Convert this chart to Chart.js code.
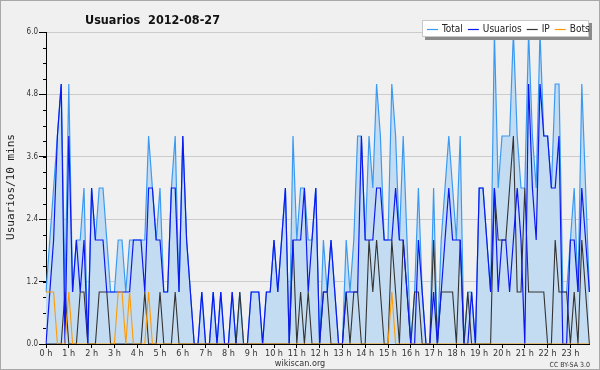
<!DOCTYPE html>
<html>
<head>
<meta charset="utf-8">
<script src="https://cdn.jsdelivr.net/npm/chart.js@4.4.1/dist/chart.umd.min.js"></script>
<style>
html,body{margin:0;padding:0;background:#f0f0f0;}
canvas{display:block;}
</style>
</head>
<body>
<canvas id="c" width="600" height="370"></canvas>
<script>
const titleText = "Usuarios  2012-08-27";
const yAxisTitle = "Usuarios/10 mins";
const hourLabels = ["0 h","1 h","2 h","3 h","4 h","5 h","6 h","7 h","8 h","9 h","10 h","11 h","12 h","13 h","14 h","15 h","16 h","17 h","18 h","19 h","20 h","21 h","22 h","23 h"];
const slotMinutes = ["00","10","20","30","40","50"];
const yTicks = [0, 1.2, 2.4, 3.6, 4.8, 6.0];
const seriesNames = ["Total","Usuarios","IP","Bots"];

const total = [1,2,3,4,5,1,5,1,2,2, 3,0,3,2,3,3,2,1,1,2, 2,1,2,2,2,2,2,4,3,2, 3,1,1,3,4,1,4,2,1,0,
               0,1,0,0,1,0,1,0,0,1, 0,1,0,0,1,1,1,0,1,1, 2,1,2,3,0,4,2,3,3,2, 2,3,0,2,1,2,1,0,0,2,
               1,2,4,4,2,4,3,5,4,2, 2,5,4,2,4,2,0,1,3,1, 0,0,3,0,2,3,4,3,2,4, 0,1,1,0,3,3,2,1,6,3,
               4,4,4,6,4,3,3,6,4,3, 6,4,4,3,5,5,1,1,2,3, 1,5,3,1];
const usuarios = [0,1,2,4,5,0,4,1,2,1, 2,0,3,2,2,2,1,1,1,1, 1,1,1,2,2,2,1,3,3,2, 2,1,1,3,3,1,4,2,1,0,
                  0,1,0,0,1,0,1,0,0,1, 0,0,0,0,1,1,1,0,1,1, 2,1,2,3,0,2,2,2,3,1, 2,3,0,1,1,2,1,0,0,1,
                  1,1,1,4,2,2,2,3,3,2, 2,2,3,2,2,1,0,0,2,1, 0,0,1,0,1,2,3,2,2,2, 0,0,1,0,3,3,2,1,3,1,
                  2,2,1,2,3,2,0,5,3,2, 5,4,4,3,3,4,0,0,2,2, 1,3,2,1];
const ip = [0,0,0,0,0,1,0,0,0,1, 1,0,0,0,1,1,1,0,0,0, 0,0,0,0,0,0,1,0,0,0, 1,0,0,0,1,0,0,0,0,0,
            0,0,0,0,0,0,0,0,0,0, 0,1,0,0,0,0,0,0,0,0, 0,0,0,0,0,2,0,1,0,1, 0,0,0,1,1,0,0,0,0,1,
            0,1,1,0,0,2,1,2,1,0, 0,2,1,0,2,1,0,1,1,0, 0,0,2,0,1,1,1,1,0,2, 0,1,0,0,0,0,0,0,3,2,
            2,2,3,4,1,1,3,1,1,1, 1,1,0,0,2,1,1,1,0,1, 0,2,1,0];
const bots = [1,1,1,0,0,0,1,0,0,0, 0,0,0,0,0,0,0,0,0,1, 1,0,1,0,0,0,0,1,0,0, 0,0,0,0,0,0,0,0,0,0,
              0,0,0,0,0,0,0,0,0,0, 0,0,0,0,0,0,0,0,0,0, 0,0,0,0,0,0,0,0,0,0, 0,0,0,0,0,0,0,0,0,0,
              0,0,0,0,0,0,0,0,0,0, 0,1,0,0,0,0,0,0,0,0, 0,0,0,0,0,0,0,0,0,0, 0,0,0,0,0,0,0,0,0,0,
              0,0,0,0,0,0,0,0,0,0, 0,0,0,0,0,0,0,0,0,0, 0,0,0,0];

const colors = {Total:"#3a9af2", Usuarios:"#0c18f0", IP:"#333333", Bots:"#ff9a00", fill:"#c4dcf1"};

const categories = [];
hourLabels.forEach(h => slotMinutes.forEach(m => categories.push(h + " " + m)));

const FONT = "'DejaVu Sans Condensed','DejaVu Sans',sans-serif";

const decor = {
  id: "decor",
  beforeDraw(chart) {
    const c = chart.ctx;
    c.save();
    c.fillStyle = "#f0f0f0";
    c.fillRect(0, 0, chart.width, chart.height);
    c.restore();
  },
  afterDraw(chart) {
    const c = chart.ctx;
    const ys = chart.scales.y;
    const left = chart.chartArea.left;
    c.save();
    // minor ticks on y axis
    c.strokeStyle = "#000"; c.lineWidth = 1;
    for (let k = 0; k <= 20; k++) {
      const v = k * 0.3;
      const py = Math.round(ys.getPixelForValue(v)) + 0.5;
      c.beginPath(); c.moveTo(left - 3, py); c.lineTo(left, py); c.stroke();
    }
    // title
    c.fillStyle = "#111";
    c.font = "bold 12.5px " + FONT;
    c.textBaseline = "alphabetic"; c.textAlign = "left";
    c.fillText(titleText, 85, 24);
    // y axis title
    c.save();
    c.translate(11, 187);
    c.rotate(-Math.PI / 2);
    c.font = "11px 'DejaVu Sans Mono', monospace";
    c.textAlign = "center"; c.textBaseline = "middle";
    c.fillStyle = "#222";
    c.fillText(yAxisTitle, 0, 0);
    c.restore();
    // legend box
    const lx = 422, ly = 20, lw = 167, lh = 17;
    c.fillStyle = "#8a8a8a";
    c.fillRect(lx + 3, ly + 3, lw, lh);
    c.fillStyle = "#ffffff";
    c.fillRect(lx, ly, lw, lh);
    c.strokeStyle = "#c8c8c8";
    c.strokeRect(lx + 0.5, ly + 0.5, lw - 1, lh - 1);
    c.font = "10px " + FONT;
    c.textBaseline = "middle"; c.textAlign = "left";
    let cx = lx + 5;
    const my = ly + lh / 2 + 0.5;
    seriesNames.forEach(name => {
      c.strokeStyle = colors[name]; c.lineWidth = 1.2;
      c.beginPath(); c.moveTo(cx, Math.round(my) + 0.5); c.lineTo(cx + 11, Math.round(my) + 0.5); c.stroke();
      cx += 15;
      c.fillStyle = "#222";
      c.fillText(name, cx, my);
      cx += c.measureText(name).width + 5;
    });
    // footer
    c.fillStyle = "#333";
    c.font = "9px " + FONT;
    c.textAlign = "center"; c.textBaseline = "alphabetic";
    c.fillText("wikiscan.org", 300, 366);
    c.font = "7px " + FONT;
    c.textAlign = "right";
    c.fillText("CC BY-SA 3.0", 590, 367);
    // outer border
    c.strokeStyle = "#a8a8a8"; c.lineWidth = 1;
    c.strokeRect(0.5, 0.5, chart.width - 1, chart.height - 1);
    c.restore();
  }
};

new Chart(document.getElementById("c"), {
  type: "line",
  data: {
    labels: categories,
    datasets: [
      {label: seriesNames[0], data: total, borderColor: colors.Total, backgroundColor: colors.fill, fill: "origin", borderWidth: 1.2, order: 4},
      {label: seriesNames[1], data: usuarios, borderColor: colors.Usuarios, borderWidth: 1.2, fill: false, order: 2},
      {label: seriesNames[2], data: ip, borderColor: colors.IP, borderWidth: 1.1, fill: false, order: 3},
      {label: seriesNames[3], data: bots, borderColor: colors.Bots, borderWidth: 1.1, fill: false, order: 1}
    ]
  },
  options: {
    responsive: false,
    animation: false,
    devicePixelRatio: 1,
    layout: {padding: {top: 32, right: 10.6, left: 0, bottom: 0}},
    elements: {point: {radius: 0, hoverRadius: 0}, line: {tension: 0}},
    plugins: {legend: {display: false}, title: {display: false}, tooltip: {enabled: false}},
    scales: {
      x: {
        type: "category",
        offset: false,
        grid: {drawOnChartArea: false, tickLength: 4, tickColor: "#000", tickWidth: 1},
        border: {color: "#000", width: 1},
        ticks: {
          autoSkip: false, maxRotation: 0, minRotation: 0, padding: 0,
          color: "#333", font: {size: 9, family: FONT},
          callback: (v, i) => (i % 6 === 0 ? hourLabels[i / 6] : null)
        },
        afterFit: s => { s.height = 26; }
      },
      y: {
        min: 0, max: 6,
        afterBuildTicks: s => { s.ticks = yTicks.map(v => ({value: v})); },
        ticks: {color: "#333", font: {size: 8, family: FONT}, padding: 1, callback: v => Number(v).toFixed(1)},
        grid: {color: "#cccccc", tickColor: "#000", tickLength: 7, lineWidth: 1},
        border: {color: "#000", width: 1},
        afterFit: s => { s.width = 46; }
      }
    }
  },
  plugins: [decor]
});
</script>
</body>
</html>
